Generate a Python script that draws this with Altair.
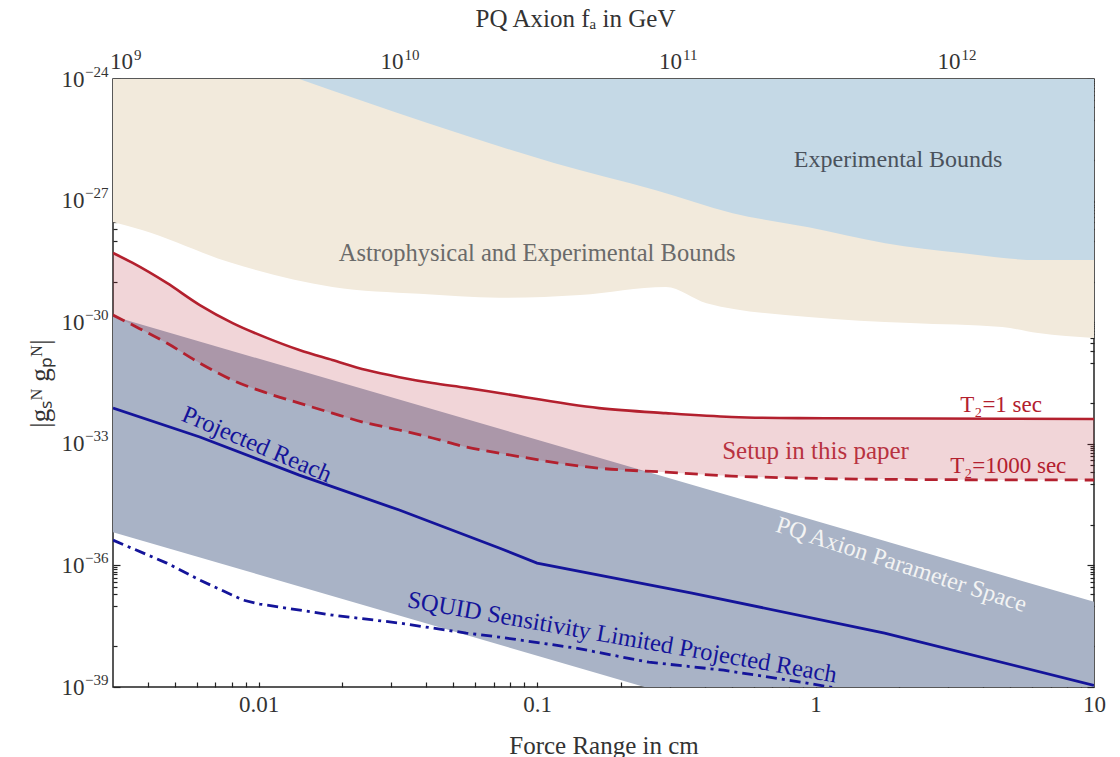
import altair as alt
import pandas as pd

# ---------------- data (force range in cm, coupling |g_s g_p|) ----------------
# Lower edge of the astrophysical + experimental exclusion
astro_lam = [0.0030, 0.00384, 0.00787, 0.0184, 0.0378, 0.0731, 0.1426, 0.290, 0.406, 0.944, 2.19, 4.68, 6.3, 10.0]
astro_g = [2.95e-28, 1.86e-28, 3.0e-29, 7.4e-30, 5.0e-30, 4.0e-30, 4.7e-30, 7.4e-30, 2.95e-30, 1.35e-30, 9.5e-31, 7.6e-31, 5.4e-31, 4.1e-31]

# Lower edge of the purely experimental exclusion
exp_lam = [0.0140, 0.0404, 0.115, 0.267, 0.504, 0.944, 1.78, 3.34, 6.3, 10.0]
exp_g = [1e-24, 8.2e-26, 8.5e-27, 1.8e-27, 4.9e-28, 2.2e-28, 8.9e-29, 5.1e-29, 3.4e-29, 3.4e-29]

# PQ axion parameter band (upper / lower edge)
pq_lam = [0.003, 10.0]
pq_upper = [1.4e-30, 1.26e-37]
pq_lower = [6.6e-36, 5.9e-43]

# Setup sensitivity for T2 = 1 s and T2 = 1000 s
t2_lam = [0.0030, 0.00353, 0.00468, 0.00615, 0.00807, 0.0107, 0.0140, 0.0184, 0.0244, 0.0320,
          0.0421, 0.0557, 0.0731, 0.167, 0.290, 0.500, 0.869, 2.5, 10.0]
t2_1sec = [5.1e-29, 2.9e-29, 9.3e-30, 2.65e-30, 9.5e-31, 4.1e-31, 2.06e-31, 1.17e-31, 6.6e-32, 4.4e-32,
           3.15e-32, 2.4e-32, 1.79e-32, 7.6e-33, 5.7e-33, 4.6e-33, 4.3e-33, 4.2e-33, 4.1e-33]
t2_1000sec = [1.5e-30, 8.5e-31, 3.06e-31, 9.8e-32, 3.7e-32, 1.79e-32, 1.01e-32, 5.7e-33, 3.26e-33, 2.19e-33,
              1.39e-33, 8.3e-34, 5.9e-34, 2.5e-34, 2.0e-34, 1.6e-34, 1.43e-34, 1.31e-34, 1.28e-34]

# Projected reach
reach_lam = [0.0030, 0.00615, 0.0140, 0.0320, 0.0731, 0.100, 0.360, 1.77, 10.0]
reach_g = [7.6e-33, 1.47e-33, 1.69e-34, 2.32e-35, 2.68e-36, 1.14e-36, 2.08e-37, 2.14e-38, 1.1e-39]

# SQUID sensitivity limited projected reach
squid_lam = [0.0030, 0.00468, 0.00615, 0.00877, 0.0101, 0.0184, 0.0320, 0.0557, 0.0731, 0.138,
             0.252, 0.468, 0.800, 1.19]
squid_g = [4.2e-36, 1.14e-36, 4.35e-37, 1.40e-37, 1.11e-37, 5.96e-38, 3.78e-38, 2.14e-38, 1.71e-38, 9.1e-39,
           4.1e-39, 2.6e-39, 1.48e-39, 9.4e-40]

# Tick labels
x_label_values = [0.01, 0.1, 1, 10]
y_label_exponents = [-39, -36, -33, -30, -27, -24]
fa_label_exponents = [9, 10, 11, 12]
FA_TO_CM = 3.3e-12  # force range (cm) per GeV of f_a

# ---------------- style ----------------
FONT = "Liberation Serif"
BEIGE = "#f2eadc"
EXP_BLUE = "#c5d9e6"
BAND = "#a9b3c6"
RED = "#b3202e"
NAVY = "#14149a"
AXIS_TEXT = "#333333"
BASE_SIZE = 23   # size of the "10" in tick labels
EXP_SIZE = 15    # size of the exponent

x_scale = alt.Scale(type="log", domain=[0.003, 10], nice=False)
y_scale = alt.Scale(type="log", domain=[1e-39, 1e-24], nice=False)


def X(field="lam"):
    return alt.X(f"{field}:Q", scale=x_scale, axis=None)


def Y(field):
    return alt.Y(f"{field}:Q", scale=y_scale, axis=None)


# ---------------- regions ----------------
astro_df = pd.DataFrame({"lam": astro_lam, "g": astro_g, "top": [1e-24] * len(astro_lam)})
exp_df = pd.DataFrame({"lam": exp_lam, "g": exp_g, "top": [1e-24] * len(exp_lam)})
pq_df = pd.DataFrame({"lam": pq_lam, "hi": pq_upper, "lo": pq_lower})
t2_df = pd.DataFrame({"lam": t2_lam, "s1": t2_1sec, "s1000": t2_1000sec})
reach_df = pd.DataFrame({"lam": reach_lam, "g": reach_g})
squid_df = pd.DataFrame({"lam": squid_lam, "g": squid_g})

astro = alt.Chart(astro_df).mark_area(color=BEIGE, clip=True, interpolate="monotone").encode(
    x=X(), y=Y("g"), y2=alt.Y2("top:Q"))
exp = alt.Chart(exp_df).mark_area(color=EXP_BLUE, clip=True, interpolate="monotone").encode(
    x=X(), y=Y("g"), y2=alt.Y2("top:Q"))
pq = alt.Chart(pq_df).mark_area(color=BAND, clip=True).encode(
    x=X(), y=Y("hi"), y2=alt.Y2("lo:Q"))
setup = alt.Chart(t2_df).mark_area(color=RED, opacity=0.19, clip=True, interpolate="monotone").encode(
    x=X(), y=Y("s1"), y2=alt.Y2("s1000:Q"))

line_1s = alt.Chart(t2_df).mark_line(color=RED, strokeWidth=2.6, clip=True, interpolate="monotone").encode(
    x=X(), y=Y("s1"))
line_1000s = alt.Chart(t2_df).mark_line(color=RED, strokeWidth=2.8, strokeDash=[13, 7], clip=True,
                                        interpolate="monotone").encode(x=X(), y=Y("s1000"))
line_reach = alt.Chart(reach_df).mark_line(color=NAVY, strokeWidth=2.8, clip=True).encode(x=X(), y=Y("g"))
line_squid = alt.Chart(squid_df).mark_line(color=NAVY, strokeWidth=2.8, strokeDash=[11, 5, 3, 5],
                                           clip=True).encode(x=X(), y=Y("g"))

# ---------------- annotations ----------------
notes = [
    ("Experimental Bounds", 1.98, 1.0e-26, 0, "#4a525c", 24),
    ("Astrophysical and Experimental Bounds", 0.1, 4.8e-29, 0, "#6a6a6a", 24.5),
    ("T₂=1 sec", 4.64, 9.1e-33, 0, RED, 23),
    ("Setup in this paper", 1.0, 6.6e-34, 0, "#b83240", 25),
    ("T₂=1000 sec", 4.92, 2.8e-34, 0, RED, 23),
    ("Projected Reach", 0.00984, 9.3e-34, 23, NAVY, 24.5),
    ("PQ Axion Parameter Space", 2.03, 1.02e-36, 18, "#f3f3f3", 24),
    ("SQUID Sensitivity Limited Projected Reach", 0.202, 1.62e-38, 10, NAVY, 24.5),
]
text_layers = []
for text, lam, g, ang, col, size in notes:
    d = pd.DataFrame({"lam": [lam], "g": [g], "t": [text]})
    text_layers.append(
        alt.Chart(d).mark_text(font=FONT, fontSize=size, color=col, angle=ang,
                               align="center", baseline="middle").encode(
            x=X(), y=Y("g"), text="t:N"))

# ---------------- frame axes ----------------
x_minor = [k * 10.0 ** n for n in range(-3, 1) for k in range(1, 10) if 0.003 < k * 10.0 ** n < 10]
fa_ticks = [k * 10.0 ** n * FA_TO_CM for n in range(9, 13) for k in range(1, 10)
            if 0.003 < k * 10.0 ** n * FA_TO_CM < 10]
y_major = [10.0 ** e for e in y_label_exponents]
y_small = [10.0 ** e for e in range(-39, -23) if e not in y_label_exponents]
y_small += [k * 10.0 ** (e - 1) for e in y_label_exponents for k in range(2, 10)
            if 1e-39 < k * 10.0 ** (e - 1) < 1e-24]
fa_major = [10.0 ** e * FA_TO_CM for e in fa_label_exponents]


def ternary(values, labels, default):
    expr = f"'{default}'"
    for v, lab in reversed(list(zip(values, labels))):
        expr = f"datum.value < {v} ? '{lab}' : " + expr
    return expr


def exp_text(e):
    return str(e).replace("-", "−")


y_exp_expr = ternary([10.0 ** (e + 1.5) for e in y_label_exponents[:-1]],
                     [exp_text(e) for e in y_label_exponents[:-1]], exp_text(y_label_exponents[-1]))
fa_exp_expr = ternary([10.0 ** (e + 0.5) * FA_TO_CM for e in fa_label_exponents[:-1]],
                      [exp_text(e) for e in fa_label_exponents[:-1]], exp_text(fa_label_exponents[-1]))

# the first f_a label sits just inside the frame corner
first_fa = f"datum.value < {10.0 ** (fa_label_exponents[0] + 0.5) * FA_TO_CM}"

base = dict(grid=False, domain=False, ticks=False, labelFont=FONT, titleFont=FONT,
            labelColor=AXIS_TEXT, titleColor=AXIS_TEXT, titleFontWeight="normal",
            labelOverlap=False, labelFlush=False)


def tick_axis(orient, values, size):
    return alt.Axis(orient=orient, values=values, labels=False, ticks=True, tickSize=size,
                    offset=-size, tickColor="#222222", tickWidth=1.2, title=None, grid=False, domain=False)


anchor = pd.DataFrame({"lam": [1.0], "g": [1e-30]})


def axis_layer(xaxis, yaxis):
    return alt.Chart(anchor).mark_point(opacity=0).encode(
        x=alt.X("lam:Q", scale=x_scale, axis=xaxis),
        y=alt.Y("g:Q", scale=y_scale, axis=yaxis))


bottom_labels = alt.Axis(orient="bottom", values=x_label_values, format="~g",
                         labelFontSize=BASE_SIZE, labelPadding=6,
                         title="Force Range in cm", titleFontSize=25, titleY=58,
                         titleBaseline="middle", **base)
top_tens = alt.Axis(orient="top", values=fa_major, labelExpr="'10'", labelAlign="right",
                    labelOffset={"condition": {"test": first_fa, "value": 8}, "value": 0},
                    labelFontSize=BASE_SIZE, labelPadding=6,
                    title="PQ Axion  fₐ in GeV", titleFontSize=25, titleX=462, titleY=-61,
                    titleBaseline="middle", titleAlign="center", **base)
top_exps = alt.Axis(orient="top", values=fa_major, labelExpr=fa_exp_expr, labelAlign="left",
                    labelOffset={"condition": {"test": first_fa, "value": 9}, "value": 1},
                    labelFontSize=EXP_SIZE, labelPadding=17, title=None, **base)
left_tens = alt.Axis(orient="left", values=y_major, labelExpr="'10'",
                     labelFontSize=BASE_SIZE, labelPadding=29,
                     title="|gₛᴺ gₚᴺ|", titleFontSize=27, titleAngle=270, titleX=-73, titleY=304,
                     titleBaseline="middle", titleAlign="center", **base)
left_exps = alt.Axis(orient="left", values=y_major, labelExpr=y_exp_expr, labelOffset=-8,
                     labelFontSize=EXP_SIZE, labelPadding=5, title=None, **base)

axes = [
    axis_layer(bottom_labels, left_tens),
    axis_layer(top_tens, left_exps),
    axis_layer(top_exps, tick_axis("left", y_major, 7)),
    axis_layer(tick_axis("bottom", x_minor, 5), tick_axis("left", y_small, 4)),
    axis_layer(tick_axis("top", fa_ticks, 5), tick_axis("right", y_major, 7)),
    axis_layer(None, tick_axis("right", y_small, 4)),
]

chart = alt.layer(
    astro, exp, pq, setup, line_1s, line_1000s, line_reach, line_squid, *text_layers, *axes
).resolve_axis(x="independent", y="independent").properties(
    width=981, height=608,
    autosize=alt.AutoSizeParams(type="none"),
    padding={"left": 113, "top": 79, "right": 26, "bottom": 70},
    background="white",
).configure_view(stroke="#222222", strokeWidth=1.5)

chart.save("out.html", embed_options={"renderer": "svg", "actions": False})
